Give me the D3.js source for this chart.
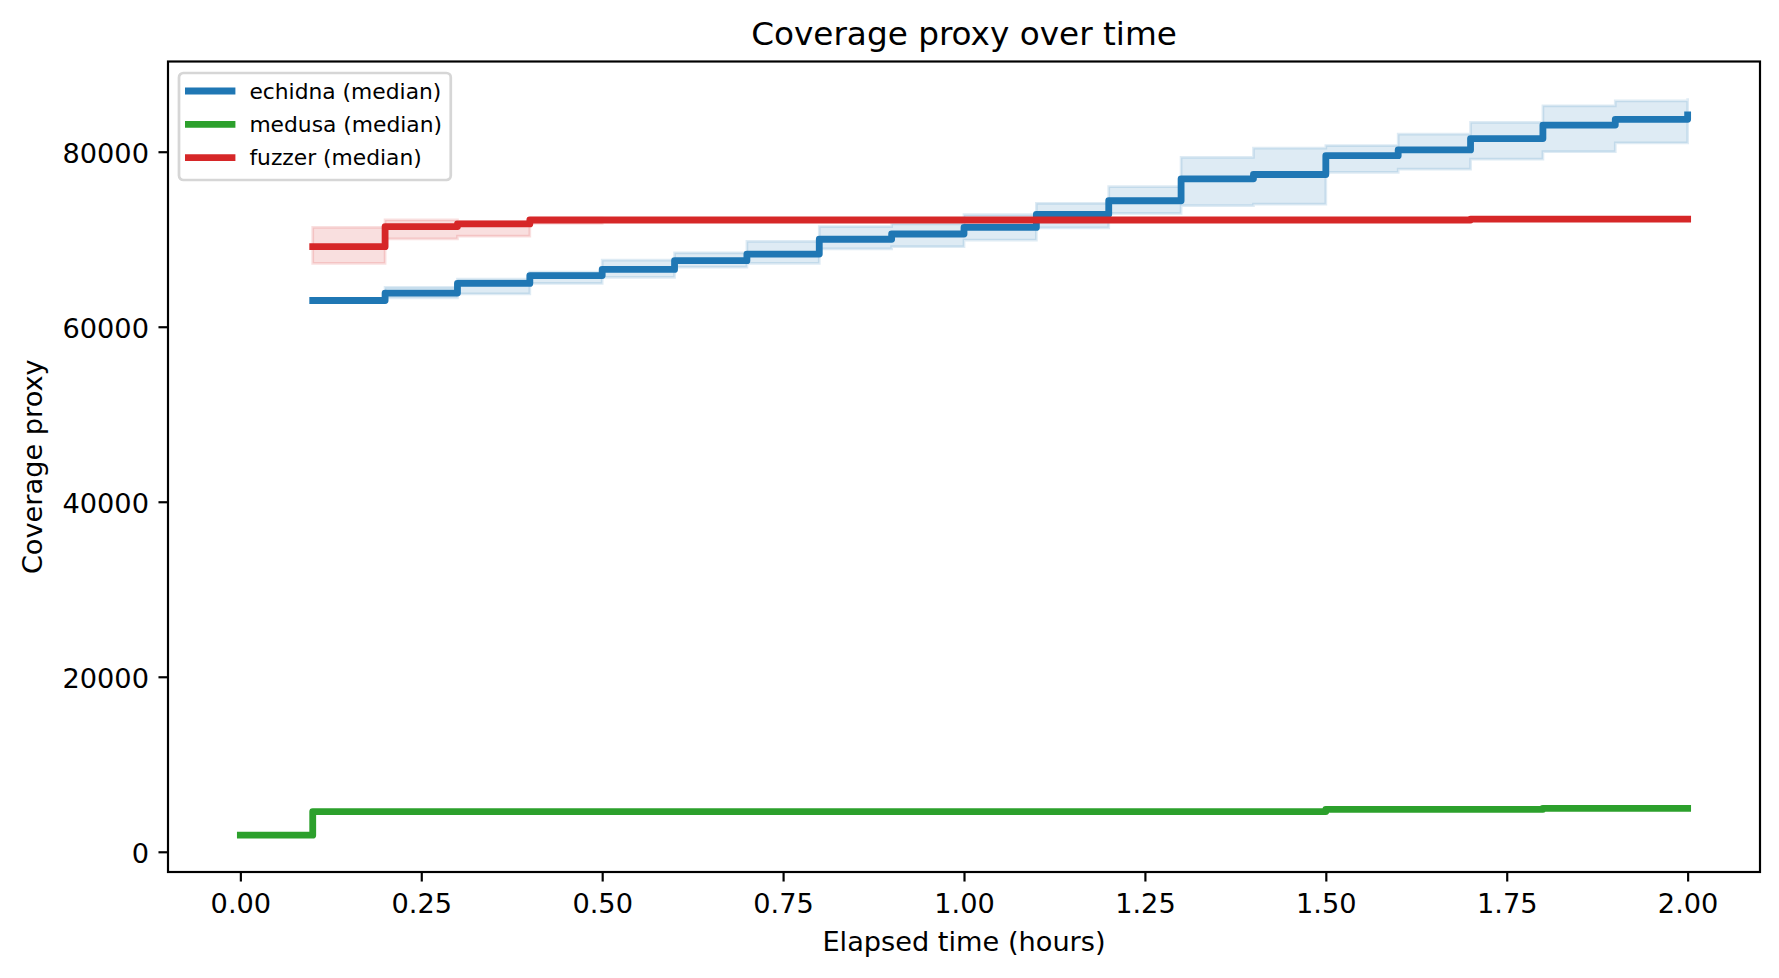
<!DOCTYPE html>
<html lang="en">
  <head>
    <meta charset="utf-8" />
    <title>Coverage proxy over time</title>
    <style>
      html,
      body {
        margin: 0;
        padding: 0;
        background: #fff;
      }
      svg {
        display: block;
        font-family: 'DejaVu Sans', sans-serif;
      }
    </style>
  </head>
  <body>
    <svg></svg>

    <script src="https://d3js.org/d3.v7.min.js"></script>
    <script type="text/javascript">
      let width = 1779,
        height = 978

      // sample times (hours)
      const hours = [0.1, 0.2, 0.3, 0.4, 0.5, 0.6, 0.7, 0.8, 0.9, 1.0, 1.1, 1.2, 1.3, 1.4, 1.5, 1.6, 1.7, 1.8, 1.9, 2.0]
      const medusaHours = [0.0, 0.1, 0.2, 0.3, 0.4, 0.5, 0.6, 0.7, 0.8, 0.9, 1.0, 1.1, 1.2, 1.3, 1.4, 1.5, 1.6, 1.7, 1.8, 1.9, 2.0]

      // echidna
      const echidnaMedian = [63000, 63850, 64950, 65850, 66550, 67550, 68300, 70000, 70600, 71350, 72850, 74400, 76900, 77400, 79550, 80200, 81500, 83050, 83700, 84200]
      const echidnaLow = [62800, 63300, 63750, 64950, 65650, 66800, 67250, 68900, 69150, 69900, 71300, 72950, 73850, 74000, 77650, 78000, 79150, 80000, 81000, 81000]
      const echidnaHigh = [63200, 64500, 65450, 66250, 67600, 68450, 69750, 71450, 71750, 72800, 74100, 76000, 79350, 80400, 80700, 82000, 83350, 85250, 85800, 86100]

      // medusa
      const medusaMedian = [1900, 4600, 4600, 4600, 4600, 4600, 4600, 4600, 4600, 4600, 4600, 4600, 4600, 4600, 4600, 4850, 4850, 4850, 4950, 4950, 4950]

      // fuzzer
      const fuzzerMedian = [69150, 71450, 71750, 72200, 72200, 72200, 72200, 72200, 72200, 72200, 72200, 72200, 72200, 72200, 72200, 72200, 72300, 72300, 72300, 72300]
      const fuzzerLow = [67250, 70050, 70350, 71800, 72150, 72150, 72150, 72150, 72150, 72150, 72150, 72150, 72150, 72150, 72150, 72150, 72250, 72250, 72250, 72250]
      const fuzzerHigh = [71350, 72200, 72050, 72400, 72250, 72250, 72250, 72250, 72250, 72250, 72250, 72250, 72250, 72250, 72250, 72250, 72350, 72350, 72350, 72350]

      const xTicks = [0, 0.25, 0.5, 0.75, 1.0, 1.25, 1.5, 1.75, 2.0]
      const yTicks = [0, 20000, 40000, 60000, 80000]

      const series = [
        { name: 'echidna (median)', color: '#1f77b4', t: hours, med: echidnaMedian, lo: echidnaLow, hi: echidnaHigh },
        { name: 'medusa (median)', color: '#2ca02c', t: medusaHours, med: medusaMedian, lo: null, hi: null },
        { name: 'fuzzer (median)', color: '#d62728', t: hours, med: fuzzerMedian, lo: fuzzerLow, hi: fuzzerHigh },
      ]

      const margin = { top: 61.5, right: 19, bottom: 106, left: 168 }
      const tickFont = 27.2,
        px = 196 / 72

      let svg = d3.select('svg').attr('width', width).attr('height', height).attr('viewBox', [0, 0, width, height])

      // matplotlib style 5% margins around the data
      const tExt = d3.extent(medusaHours.concat(hours))
      const vExt = d3.extent([].concat(echidnaLow, echidnaHigh, medusaMedian, fuzzerLow, fuzzerHigh))
      const tPad = (tExt[1] - tExt[0]) * 0.05,
        vPad = (vExt[1] - vExt[0]) * 0.05

      let x = d3
        .scaleLinear()
        .domain([tExt[0] - tPad, tExt[1] + tPad])
        .range([margin.left, width - margin.right])
      let y = d3
        .scaleLinear()
        .domain([vExt[0] - vPad, vExt[1] + vPad])
        .range([height - margin.bottom, margin.top])

      // bands
      series
        .filter((s) => s.lo)
        .forEach((s) => {
          let area = d3
            .area()
            .curve(d3.curveStepAfter)
            .x((d, i) => x(s.t[i]))
            .y0((d, i) => y(s.lo[i]))
            .y1((d, i) => y(s.hi[i]))
          svg
            .append('path')
            .attr('d', area(s.t))
            .attr('fill', s.color)
            .attr('fill-opacity', 0.15)
            .attr('stroke', s.color)
            .attr('stroke-opacity', 0.15)
            .attr('stroke-width', 1.0 * px)
        })

      // median lines
      series.forEach((s) => {
        let line = d3
          .line()
          .curve(d3.curveStepAfter)
          .x((d, i) => x(s.t[i]))
          .y((d) => y(d))
        svg
          .append('path')
          .attr('d', line(s.med))
          .attr('fill', 'none')
          .attr('stroke', s.color)
          .attr('stroke-width', 2.5 * px)
          .attr('stroke-linejoin', 'round')
          .attr('stroke-linecap', 'square')
      })

      // axes
      let xAxis = svg
        .append('g')
        .attr('transform', `translate(0,${height - margin.bottom})`)
        .call(d3.axisBottom(x).tickValues(xTicks).tickFormat(d3.format('.2f')).tickSize(3.5 * px).tickPadding(3.5 * px))
      xAxis.select('.domain').remove()
      xAxis.selectAll('.tick line').attr('stroke', '#000').attr('stroke-width', 0.8 * px)
      xAxis
        .selectAll('.tick text')
        .attr('fill', '#000')
        .attr('font-size', tickFont)
        .attr('font-family', 'DejaVu Sans')
        .attr('dy', null)
        .attr('y', 40.5)

      let yAxis = svg
        .append('g')
        .attr('transform', `translate(${margin.left},0)`)
        .call(d3.axisLeft(y).tickValues(yTicks).tickFormat(d3.format('d')).tickSize(3.5 * px).tickPadding(3.5 * px))
      yAxis.select('.domain').remove()
      yAxis.selectAll('.tick line').attr('stroke', '#000').attr('stroke-width', 0.8 * px)
      yAxis
        .selectAll('.tick text')
        .attr('fill', '#000')
        .attr('font-size', tickFont)
        .attr('font-family', 'DejaVu Sans')
        .attr('dy', null)
        .attr('y', 10.5)

      // frame
      svg
        .append('rect')
        .attr('x', margin.left)
        .attr('y', margin.top)
        .attr('width', width - margin.left - margin.right)
        .attr('height', height - margin.top - margin.bottom)
        .attr('fill', 'none')
        .attr('stroke', '#000')
        .attr('stroke-width', 0.8 * px)

      const cx = (margin.left + width - margin.right) / 2,
        cy = (margin.top + height - margin.bottom) / 2

      svg
        .append('text')
        .attr('x', cx)
        .attr('y', 44.8)
        .attr('text-anchor', 'middle')
        .attr('font-size', 32.7)
        .text('Coverage proxy over time')

      svg
        .append('text')
        .attr('x', cx)
        .attr('y', 951)
        .attr('text-anchor', 'middle')
        .attr('font-size', tickFont)
        .text('Elapsed time (hours)')

      svg
        .append('text')
        .attr('transform', `translate(42,${cy}) rotate(-90)`)
        .attr('text-anchor', 'middle')
        .attr('font-size', tickFont)
        .text('Coverage proxy')

      // legend
      const legFont = 21.8
      let legend = svg.append('g').attr('transform', `translate(${margin.left + 11},${margin.top + 11.5})`)
      let box = legend
        .append('rect')
        .attr('rx', 4.4)
        .attr('fill', '#fff')
        .attr('fill-opacity', 0.8)
        .attr('stroke', '#cccccc')
        .attr('stroke-opacity', 0.8)
        .attr('stroke-width', 1.0 * px)

      let maxW = 0
      series.forEach((s, i) => {
        let ry = 18 + i * 33.3
        legend
          .append('line')
          .attr('x1', 9.4)
          .attr('x2', 53)
          .attr('y1', ry)
          .attr('y2', ry)
          .attr('stroke', s.color)
          .attr('stroke-width', 2.5 * px)
          .attr('stroke-linecap', 'square')
        let t = legend
          .append('text')
          .attr('x', 70.4)
          .attr('y', ry + 7.5)
          .attr('font-size', legFont)
          .text(s.name)
        maxW = Math.max(maxW, t.node().getComputedTextLength())
      })
      box.attr('width', 70.4 + maxW + 8.7).attr('height', 107)
    </script>
  </body>
</html>
